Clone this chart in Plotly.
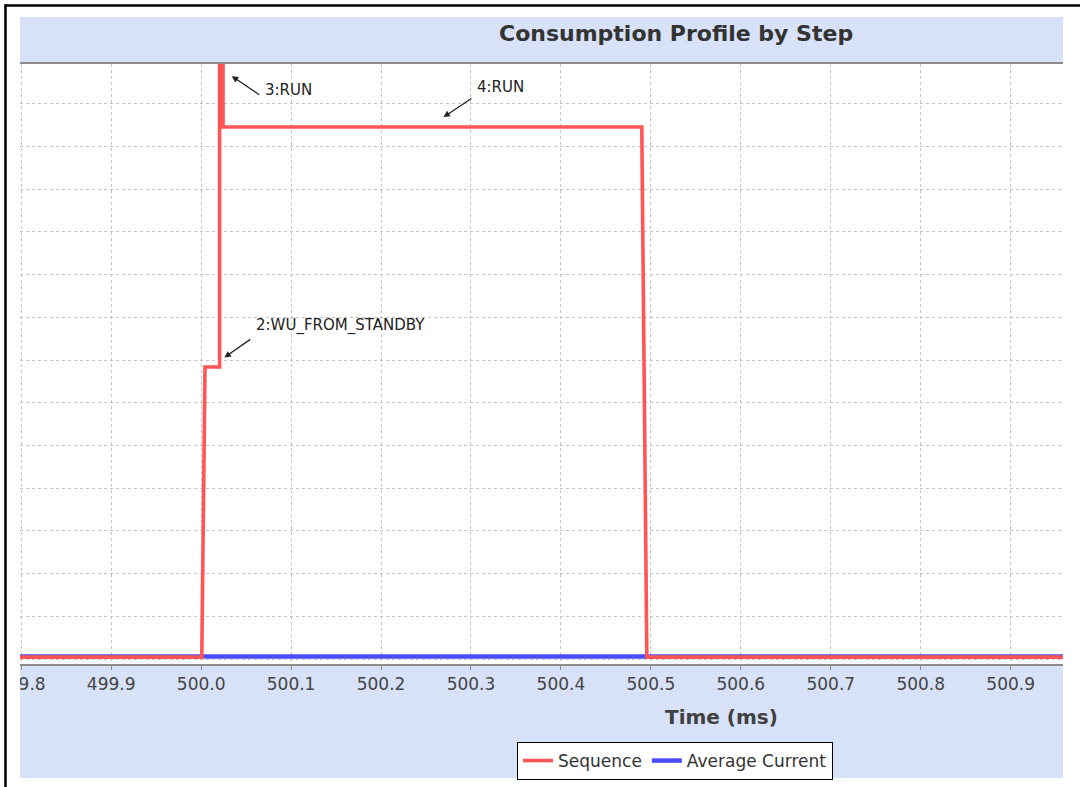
import plotly.graph_objects as go

# ---------------- data ----------------
seq_time = [499.79, 500.0007, 500.0043, 500.0205, 500.0205, 500.0243, 500.0243, 500.4899, 500.4955, 500.96]
seq_current = [0.045, 0.045, 6.84, 6.84, 20.0, 20.0, 12.46, 12.46, 0.045, 0.045]

avg_time = [499.79, 500.96]
avg_current = [0.06, 0.06]

tick_vals = [499.8, 499.9, 500.0, 500.1, 500.2, 500.3, 500.4, 500.5, 500.6, 500.7, 500.8, 500.9]
tick_text = ["499.8", "499.9", "500.0", "500.1", "500.2", "500.3", "500.4", "500.5", "500.6", "500.7", "500.8", "500.9"]

# step labels with their arrows
step_labels = ["3:RUN", "4:RUN", "2:WU_FROM_STANDBY"]
label_x = [500.0685, 500.3047, 500.0588]
label_y = [13.33, 13.40, 7.80]
tail_x = [500.0663, 500.3021, 500.0563]
tail_y = [13.19, 13.15, 7.51]
head_x = [500.0340, 500.2694, 500.0258]
head_y = [13.65, 12.69, 7.06]

# ---------------- layout geometry (pixels) ----------------
W, H = 1080, 787
L, R, T, B = 20, 1063, 64, 664   # plot area edges in pixels


def px(xp):
    return (xp - L) / (R - L)


def py(yp):
    return (B - yp) / (B - T)


FONT = "DejaVu Sans"

fig = go.Figure()
fig.add_trace(go.Scatter(x=avg_time, y=avg_current, mode="lines", name="Average Current",
                         line=dict(color="#4b4bff", width=4.5), legendrank=2))
fig.add_trace(go.Scatter(x=seq_time, y=seq_current, mode="lines", name="Sequence",
                         line=dict(color="#ff5555", width=3.6), legendrank=1))

shapes = [
    dict(type="rect", xref="paper", yref="paper", x0=px(20), x1=px(1063), y0=py(778), y1=py(17),
         fillcolor="#d7e1f8", line=dict(width=0), layer="below"),
    dict(type="rect", xref="paper", yref="paper", x0=0, x1=1, y0=0, y1=1,
         fillcolor="white", line=dict(width=0), layer="below"),
    dict(type="line", xref="paper", yref="paper", x0=0, x1=1, y0=py(63), y1=py(63),
         line=dict(color="#8c8c8c", width=2), layer="above"),
    dict(type="rect", xref="paper", yref="paper", x0=px(0), x1=px(20), y0=py(787), y1=py(0),
         fillcolor="white", line=dict(width=0), layer="above"),
    dict(type="line", xref="paper", yref="paper", x0=px(4.5), x1=px(1080), y0=py(5.5), y1=py(5.5),
         line=dict(color="black", width=2.5), layer="above"),
    dict(type="line", xref="paper", yref="paper", x0=px(5.5), x1=px(5.5), y0=py(4.5), y1=py(787),
         line=dict(color="black", width=2.5), layer="above"),
]

annotations = [
    dict(text="<b>Consumption Profile by Step</b>", xref="paper", yref="paper", x=px(676), y=py(34),
         xanchor="center", yanchor="middle", showarrow=False,
         font=dict(family=FONT, size=22, color="#333333")),
    dict(text="<b>Time (ms)</b>", xref="paper", yref="paper", x=px(721), y=py(717),
         xanchor="center", yanchor="middle", showarrow=False,
         font=dict(family=FONT, size=20, color="#404040")),
]
for i, t in enumerate(step_labels):
    annotations.append(dict(text="", x=head_x[i], y=head_y[i], ax=tail_x[i], ay=tail_y[i],
                            xref="x", yref="y", axref="x", ayref="y", showarrow=True,
                            arrowhead=2, arrowsize=1, arrowwidth=1.3, arrowcolor="#222222",
                            standoff=0, startstandoff=0))
    annotations.append(dict(text=t, x=label_x[i], y=label_y[i], xref="x", yref="y",
                            xanchor="left", yanchor="middle", showarrow=False,
                            font=dict(family=FONT, size=15, color="#222222")))

fig.update_layout(
    width=W, height=H,
    margin=dict(l=L, r=W - R, t=T, b=H - B, pad=0, autoexpand=False),
    paper_bgcolor="white", plot_bgcolor="white",
    showlegend=True,
    legend=dict(orientation="h", x=px(517), y=py(742), xanchor="left", yanchor="top",
                bgcolor="white", bordercolor="black", borderwidth=1,
                font=dict(family=FONT, size=17, color="#333333"),
                itemwidth=30, tracegroupgap=0),
    shapes=shapes,
    annotations=annotations,
    xaxis=dict(range=[499.7986, 500.9582], tickmode="array", tickvals=tick_vals, ticktext=tick_text,
               showgrid=True, gridcolor="#c4c4c4", griddash="3px,3px", gridwidth=1,
               showline=True, linecolor="#8c8c8c", linewidth=1.5,
               ticks="outside", ticklen=4, tickcolor="#8c8c8c",
               tickfont=dict(family=FONT, size=17, color="#444444"),
               ticklabeloverflow="allow", automargin=False, zeroline=False, fixedrange=True),
    yaxis=dict(range=[-0.117, 13.934], dtick=1, tick0=0, showticklabels=False,
               showgrid=True, gridcolor="#c4c4c4", griddash="3px,3px", gridwidth=1,
               automargin=False, zeroline=False, showline=False, ticks="", fixedrange=True),
)

fig.write_html("out.html", config={"displayModeBar": False},
               post_script="document.body.style.margin='0';document.body.style.overflow='hidden';")
